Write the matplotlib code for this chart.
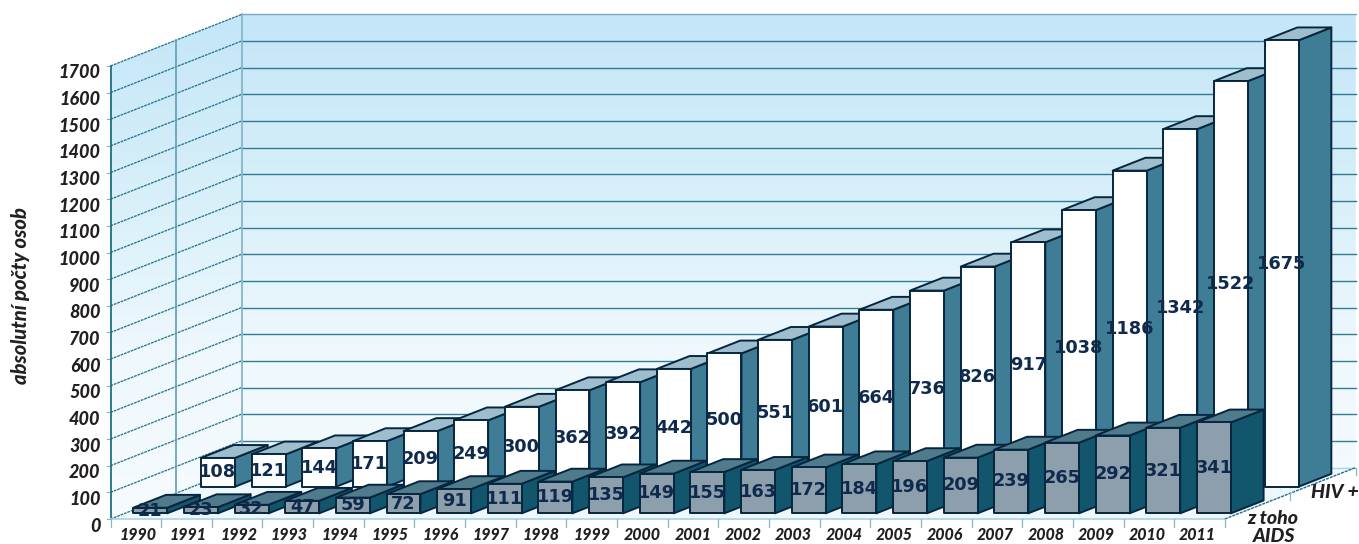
import numpy as np
import matplotlib
matplotlib.use("Agg")
import matplotlib.pyplot as plt
from matplotlib.patches import Polygon
from matplotlib.colors import LinearSegmentedColormap

years = [1990, 1991, 1992, 1993, 1994, 1995, 1996, 1997, 1998, 1999, 2000,
         2001, 2002, 2003, 2004, 2005, 2006, 2007, 2008, 2009, 2010, 2011]
hiv = [108, 121, 144, 171, 209, 249, 300, 362, 392, 442, 500,
       551, 601, 664, 736, 826, 917, 1038, 1186, 1342, 1522, 1675]
aids = [21, 23, 32, 47, 59, 72, 91, 111, 119, 135, 149,
        155, 163, 172, 184, 196, 209, 239, 265, 292, 321, 341]
y_ticks = list(range(0, 1800, 100))

# oblique projection of the chart box to pixels
X0, Y0 = 110.5, 519.0
SLOT = 50.65
PX_PER_UNIT = 0.2665
DEPTH_X, DEPTH_Y = 131.0, 51.5
BAR_W = 0.67
BAR_D = 0.25
ROW_AIDS = 0.11
ROW_HIV = 0.627

LABEL_FONT = "Lato"
INK = "#231f20"
NAVY = "#06263f"
GRID = "#1d6f8c"


def proj(x, v, d):
    return (X0 + x * SLOT + d * DEPTH_X, Y0 - v * PX_PER_UNIT - d * DEPTH_Y)


def draw_bar(ax, i, value, row, front, top, side, zorder):
    xl = i + (1 - BAR_W) / 2
    xr = xl + BAR_W
    d0, d1 = row, row + BAR_D
    faces = [
        ([(xr, 0, d0), (xr, 0, d1), (xr, value, d1), (xr, value, d0)], side),
        ([(xl, value, d0), (xr, value, d0), (xr, value, d1), (xl, value, d1)], top),
        ([(xl, 0, d0), (xr, 0, d0), (xr, value, d0), (xl, value, d0)], front),
    ]
    for pts, col in faces:
        ax.add_patch(Polygon([proj(*p) for p in pts], closed=True, facecolor=col,
                             edgecolor=NAVY, linewidth=1.4, joinstyle="round", zorder=zorder))
    cx, cy = proj(xl + BAR_W / 2, value / 2, d0)
    ax.text(cx, cy, str(value), ha="center", va="center", family="DejaVu Sans",
            fontweight="bold", fontsize=12.8, color="#0e2a4c", zorder=50)


def label(ax, x, y, s, size, **kw):
    ax.text(x, y, s, va="center", family=LABEL_FONT, fontweight="black", style="italic",
            fontsize=size, color=INK, zorder=5, **kw)


fig = plt.figure(figsize=(13.59, 5.44), dpi=100)
ax = fig.add_axes([0, 0, 1, 1])
ax.set_xlim(0, 1359)
ax.set_ylim(544, 0)
ax.axis("off")

n = len(years)
top_v = y_ticks[-1]

# walls with the pale blue fade
cmap = LinearSegmentedColormap.from_list("wall", ["#c4e6f8", "#d6eff9", "#eef8fd", "#f6fbfe"])
grad = np.linspace(0, 1, 256).reshape(-1, 1)
im = ax.imshow(grad, cmap=cmap, extent=(0, 1359, proj(0, 0, 0)[1], proj(0, top_v, 1)[1]),
               aspect="auto", zorder=1)
wall = Polygon([proj(0, 0, 0), proj(0, top_v, 0), proj(0, top_v, 1), proj(n, top_v, 1),
                proj(n, 0, 1), proj(n, 0, 0)], closed=True, transform=ax.transData,
               facecolor="none", edgecolor="none")
ax.add_patch(wall)
im.set_clip_path(wall)
ax.set_xlim(0, 1359)
ax.set_ylim(544, 0)

# floor
ax.add_patch(Polygon([proj(0, 0, 0), proj(n, 0, 0), proj(n, 0, 1), proj(0, 0, 1)],
                     closed=True, facecolor="#eef8fc", edgecolor="none", zorder=2))

# grid on the side wall and the back wall
for v in y_ticks:
    a, b, c = proj(0, v, 0), proj(0, v, 1), proj(n, v, 1)
    ax.plot([a[0], b[0]], [a[1], b[1]], color=GRID, lw=0.9, ls=(0, (2.2, 0.7)), zorder=3)
    ax.plot([b[0], c[0]], [b[1], c[1]], color=GRID if v else "#a8d3e2", lw=1.0,
            alpha=0.9 if v != top_v else 0.55, zorder=3)
    ax.plot([a[0] - 4, a[0]], [a[1], a[1]], color="#8fa9b5", lw=0.8, zorder=3)
    label(ax, a[0] - 10, a[1] + 7, str(v), 13, ha="right")

for d, col, lw in [(0, "#1d6f8c", 1.3), (0.5, "#5f9db5", 1.2), (1, "#86b6ca", 1.3)]:
    a, b = proj(0, 0, d), proj(0, top_v, d)
    ax.plot([a[0], b[0]], [a[1], b[1]], color=col, lw=lw, zorder=3)

# floor edges and ticks
a, b = proj(0, 0, 0), proj(n, 0, 0)
ax.plot([a[0], b[0]], [a[1], b[1]], color="#a8d3e2", lw=1.2, zorder=3)
a, b = proj(n, 0, 0), proj(n, 0, 1)
ax.plot([a[0], b[0]], [a[1], b[1]], color=GRID, lw=1.0, ls=(0, (2.2, 0.7)), zorder=3)
for i in range(n + 1):
    a = proj(i, 0, 0)
    ax.plot([a[0], a[0]], [a[1], a[1] + 8], color="#8fb4c3", lw=0.9, zorder=3)
for d in (0.5, 1):
    a = proj(n, 0, d)
    ax.plot([a[0], a[0]], [a[1], a[1] + 7], color="#8fb4c3", lw=0.9, zorder=3)

# year labels sit on a slightly tighter pitch than the slots
for i, yr in enumerate(years):
    a = proj(i + 0.5, 0, 0)
    label(ax, a[0] + 2 - 0.2 * i, 535.5, str(yr), 11.5, ha="center")

# back row first, then the front row on top of it
for i, v in enumerate(hiv):
    draw_bar(ax, i, v, ROW_HIV, "#ffffff", "#9fbecd", "#3f7d97", 10 + i)
for i, v in enumerate(aids):
    draw_bar(ax, i, v, ROW_AIDS, "#8d9fad", "#4f7b8d", "#12566e", 40 + i * 0.1)

label(ax, 1273, 518.5, "z toho", 14, ha="center")
label(ax, 1274, 537, "AIDS", 14, ha="center")
label(ax, 1335, 493, "HIV +", 14, ha="center")
ax.text(21, 296, "absolutní počty osob", rotation=90, ha="center", va="center",
        family=LABEL_FONT, fontweight="black", style="italic", fontsize=14.5, color=INK)

fig.savefig("out.png", dpi=100)
